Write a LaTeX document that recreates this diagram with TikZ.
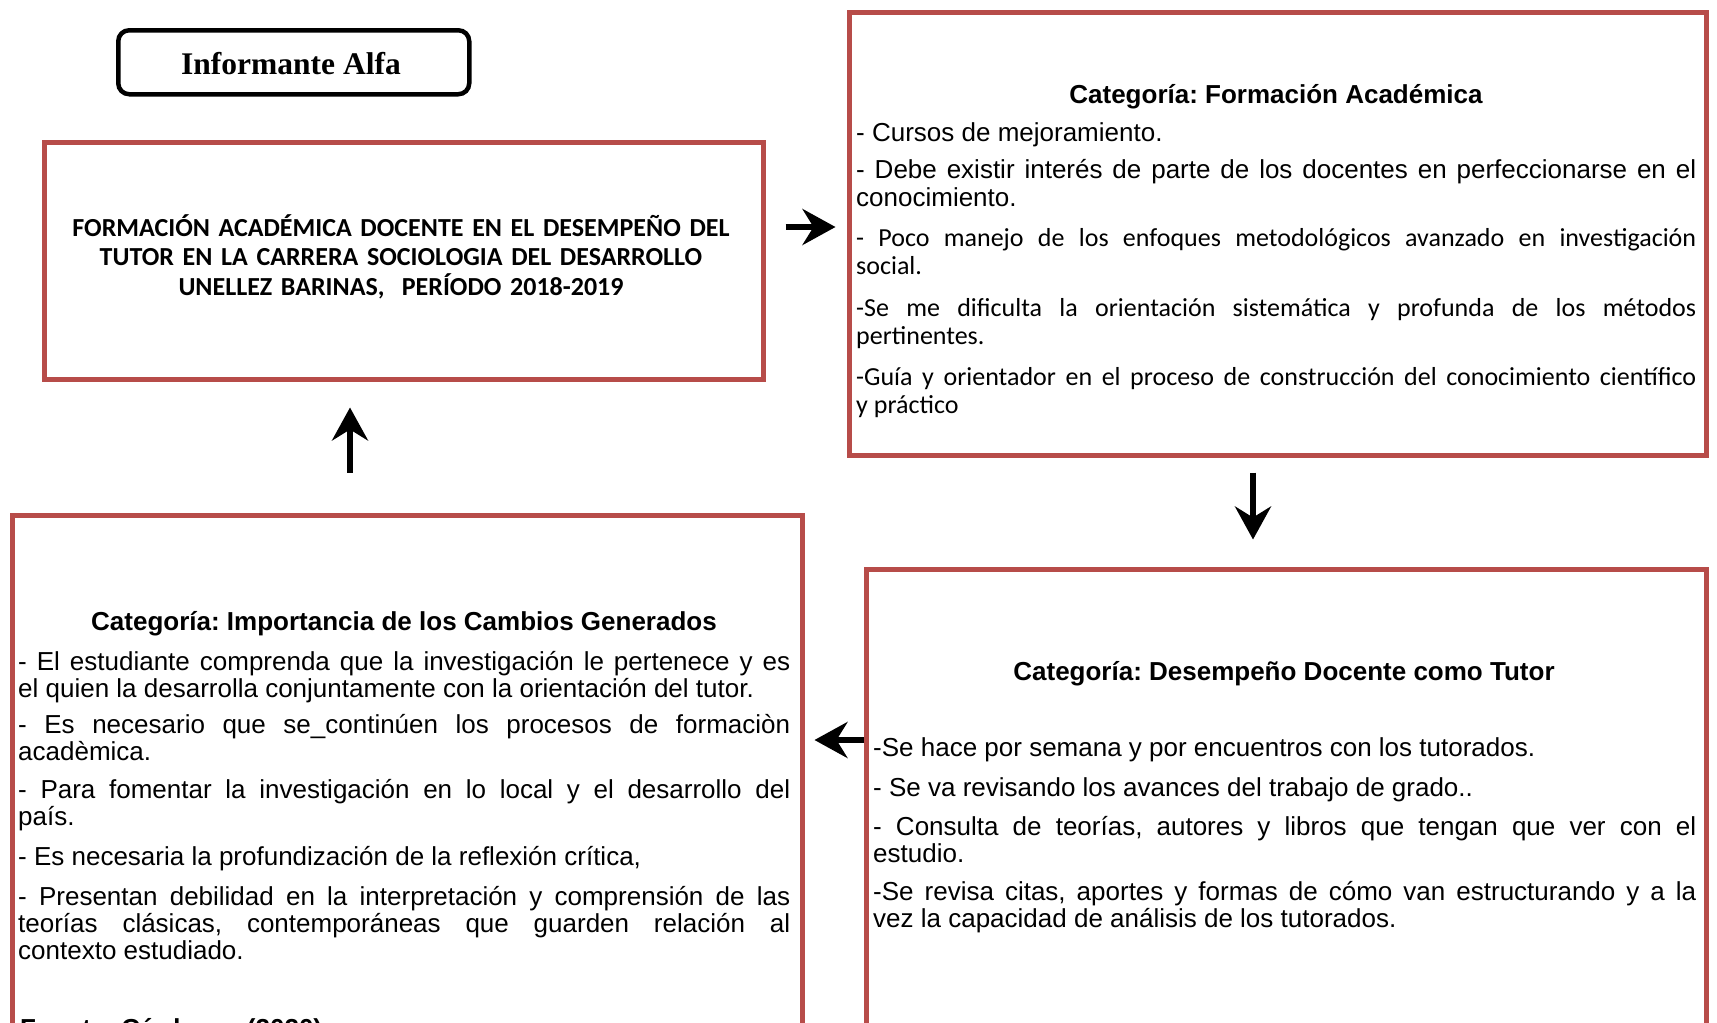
\documentclass[tikz,border=0pt]{standalone}
\usepackage{fontspec}
\setmainfont{Liberation Sans}
\newfontfamily\calib{Carlito}
\newfontfamily\tnr{Liberation Serif}
\usetikzlibrary{arrows.meta}
\definecolor{boxred}{RGB}{183,76,73}
\newcommand\jl[1]{\hbox to\linewidth{#1}\par}
\frenchspacing
\tikzset{
  redbox/.style={draw=boxred, line width=5pt, inner sep=0pt, rectangle, anchor=north west},
  titlebox/.style={draw=black, line width=4.5pt, rounded corners=11pt, inner sep=0pt, anchor=north west},
  headtxt/.style={font=\frenchspacing\fontsize{26}{28}\selectfont\bfseries, anchor=base, inner sep=0pt},
  para/.style={anchor=base west, inner sep=0pt, text width=#1, align=justify},
  ariala/.style={font=\frenchspacing\fontsize{26}{28.3}\selectfont},
  calibria/.style={font=\frenchspacing\calib\fontsize{26}{28.3}\selectfont},
  arialb/.style={font=\frenchspacing\fontsize{26}{27}\selectfont},
  bigarrow/.style={line width=6.5pt, -{Stealth[length=33pt,width=36pt,inset=11pt]}}
}
\begin{document}
\begin{tikzpicture}[x=1pt,y=1pt]
\useasboundingbox (0,0) rectangle (1717,-1023);
\clip (0,0) rectangle (1717,-1023);
\fill[white] (0,0) rectangle (1717,-1023);

% boxes
\node[titlebox, minimum width=351pt, minimum height=64pt] (title) at (116,-28) {};
\node[font=\tnr\bfseries\fontsize{31.5}{34}\selectfont, anchor=base, inner sep=0pt] (titletxt) at (291,-74) {Informante Alfa};

\node[redbox, minimum width=719.4pt, minimum height=237pt] (main) at (41.6,-140) {};
\node[font=\frenchspacing\calib\bfseries\fontsize{26}{29.5}\selectfont, anchor=base, inner sep=0pt, text width=715pt, align=center] (maintxt) at (401,-236)
  {FORMACIÓN ACADÉMICA DOCENTE EN EL DESEMPEÑO DEL\\TUTOR EN LA CARRERA SOCIOLOGIA DEL DESARROLLO\\UNELLEZ BARINAS,\ \ PERÍODO 2018-2019};

\node[redbox, minimum width=857.5pt, minimum height=443.5pt] (tr) at (846.5,-9.5) {};
\node[redbox, minimum width=789.5pt, minimum height=547pt] (bl) at (10,-513) {};
\node[redbox, minimum width=840pt, minimum height=493pt] (br) at (864,-567) {};

% top right text
\node[headtxt] (trh) at (1276,-103) {Categoría: Formación Académica};
\node[para=840pt, ariala] (tr1) at (856,-141) {- Cursos de mejoramiento.};
\node[para=840pt, ariala] (tr2) at (856,-178) {\jl{- Debe existir interés de parte de los docentes en perfeccionarse en el}conocimiento.};
\node[para=840pt, calibria] (tr3) at (856,-246) {\jl{- Poco manejo de los enfoques metodológicos avanzado en investigación}social.};
\node[para=840pt, calibria] (tr4) at (856,-316) {\jl{-Se me dificulta la orientación sistemática y profunda de los métodos}pertinentes.};
\node[para=840pt, calibria] (tr5) at (856,-385) {\jl{-Guía y orientador en el proceso de construcción del conocimiento científico}y práctico};

% bottom right text
\node[headtxt] (brh) at (1284,-680) {Categoría: Desempeño Docente como Tutor};
\node[para=823pt, arialb] (br1) at (873,-756) {-Se hace por semana y por encuentros con los tutorados.};
\node[para=823pt, arialb] (br2) at (873,-796) {- Se va revisando los avances del trabajo de grado..};
\node[para=823pt, arialb] (br3) at (873,-835) {\jl{- Consulta de teorías, autores y libros que tengan que ver con el}estudio.};
\node[para=823pt, arialb] (br4) at (873,-900) {\jl{-Se revisa citas, aportes y formas de cómo van estructurando y a la}vez la capacidad de análisis de los tutorados.};

% bottom left text
\node[headtxt] (blh) at (404,-630) {Categoría: Importancia de los Cambios Generados};
\node[para=772pt, arialb] (bl1) at (18,-670) {\jl{- El estudiante comprenda que la investigación le pertenece y es}el quien la desarrolla conjuntamente con la orientación del tutor.};
\node[para=772pt, arialb] (bl2) at (18,-733) {\jl{- Es necesario que se\_continúen los procesos de formaciòn}acadèmica.};
\node[para=772pt, arialb] (bl3) at (18,-798) {\jl{- Para fomentar la investigación en lo local y el desarrollo del}país.};
\node[para=772pt, arialb] (bl4) at (18,-865) {- Es necesaria la profundización de la reflexión crítica,};
\node[para=772pt, arialb] (bl5) at (18,-905) {\jl{- Presentan debilidad en la interpretación y comprensión de las}\jl{teorías clásicas, contemporáneas que guarden relación al}contexto estudiado.};
\node[headtxt, anchor=base west] (fuente) at (20,-1037) {Fuente: Cárdenas (2020)};

% connectors
\coordinate (ar1) at (0,-227);
\coordinate (au) at (350,0);
\coordinate (ad) at (1253,0);
\coordinate (al) at (0,-740);
\draw[bigarrow, shorten <=19.5pt, shorten >=11pt] (main.east |- ar1) -- (tr.west |- ar1);
\draw[bigarrow, shorten <=14.5pt, shorten >=27.5pt] (tr.south -| ad) -- (br.north -| ad);
\draw[bigarrow, shorten >=10pt] (br.west |- al) -- (bl.east |- al);
\draw[bigarrow, shorten <=40.5pt, shorten >=25.5pt] (bl.north -| au) -- (main.south -| au);
\end{tikzpicture}
\end{document}
